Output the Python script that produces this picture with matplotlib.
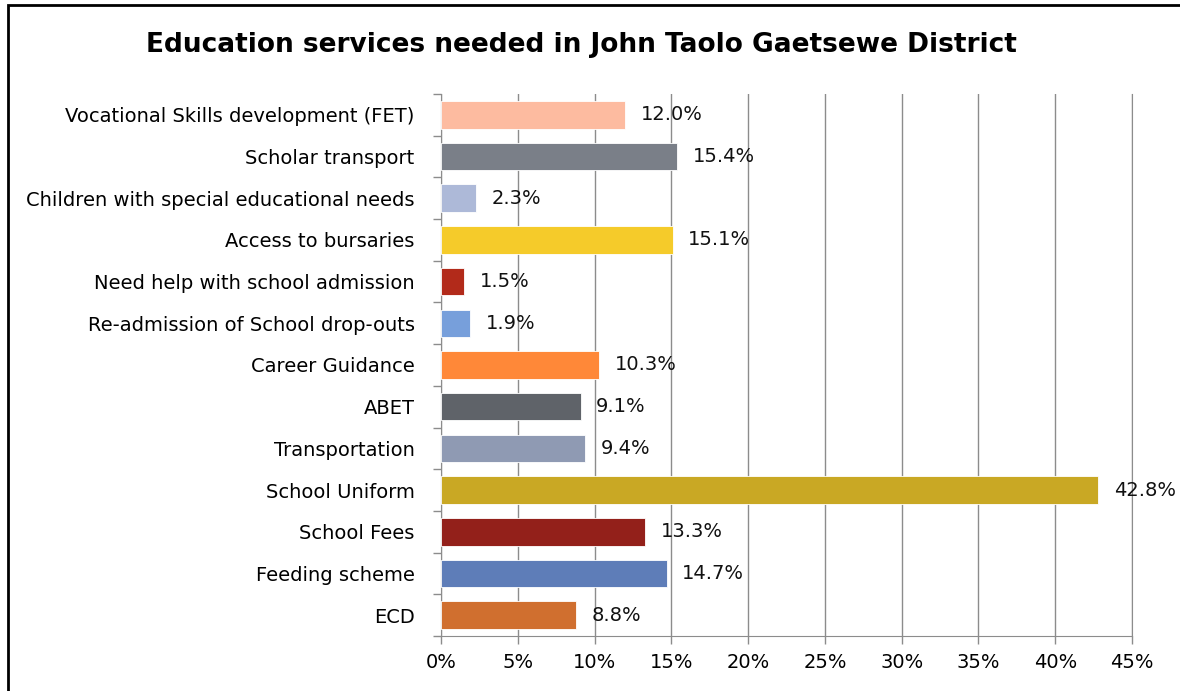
import matplotlib.pyplot as plt
from matplotlib.patches import Rectangle
from matplotlib.ticker import FuncFormatter

plt.rcParams['font.family'] = ['DejaVu Sans']

categories = ['Vocational Skills development (FET)', 'Scholar transport',
              'Children with special educational needs', 'Access to bursaries',
              'Need help with school admission', 'Re-admission of School drop-outs',
              'Career Guidance', 'ABET', 'Transportation', 'School Uniform',
              'School Fees', 'Feeding scheme', 'ECD']
values = [12.0, 15.4, 2.3, 15.1, 1.5, 1.9, 10.3, 9.1, 9.4, 42.8, 13.3, 14.7, 8.8]
colors = ['#FDBBA0', '#7A7F88', '#ADB9D8', '#F5CB2A', '#B22A1A', '#779FDB',
          '#FF8838', '#5F6369', '#8F9AB3', '#C9A824', '#93201A', '#5E7DB8', '#D06F2F']

fig = plt.figure(figsize=(11.8, 6.91), dpi=100)
ax = fig.add_axes([441 / 1180, 1 - 636 / 691, (1132 - 441) / 1180, (636 - 94) / 691])

ypos = list(range(len(categories)))[::-1]
ax.barh(ypos, values, height=0.66, color=colors, edgecolor='white', linewidth=0.6, zorder=3)
for y, v in zip(ypos, values):
    ax.text(v + 1.0, y, f'{v:.1f}%', va='center', ha='left', fontsize=14, color='#111111', zorder=4)

ax.set_xlim(0, 45)
ax.set_ylim(-0.5, len(categories) - 0.5)
ax.set_xticks(range(0, 46, 5))
ax.xaxis.set_major_formatter(FuncFormatter(lambda x, _: f'{x:.0f}%'))
ax.set_yticks(ypos)
ax.set_yticklabels(categories)
ax.set_yticks([y + 0.5 for y in range(-1, len(categories))], minor=True)
ax.tick_params(axis='y', which='major', length=0, pad=19, labelsize=14)
ax.tick_params(axis='y', which='minor', length=6, color='#8C8C8C', width=1)
ax.tick_params(axis='x', length=6, color='#8C8C8C', width=1, labelsize=14, pad=6)
ax.grid(axis='x', color='#8C8C8C', linewidth=1, zorder=0)
ax.spines['top'].set_visible(False)
for side in ['left', 'bottom', 'right']:
    ax.spines[side].set_color('#8C8C8C')

fig.text(581 / 1180, 1 - 45 / 691, 'Education services needed in John Taolo Gaetsewe District',
         ha='center', va='center', fontsize=19, fontweight='bold')

# outer frame around the chart area
fig.patches.append(Rectangle((8 / 1180, -0.1), 1.2, 1 - 5 / 691 + 0.1, transform=fig.transFigure,
                             fill=False, edgecolor='black', linewidth=2))

fig.savefig('out.png', dpi=100)
